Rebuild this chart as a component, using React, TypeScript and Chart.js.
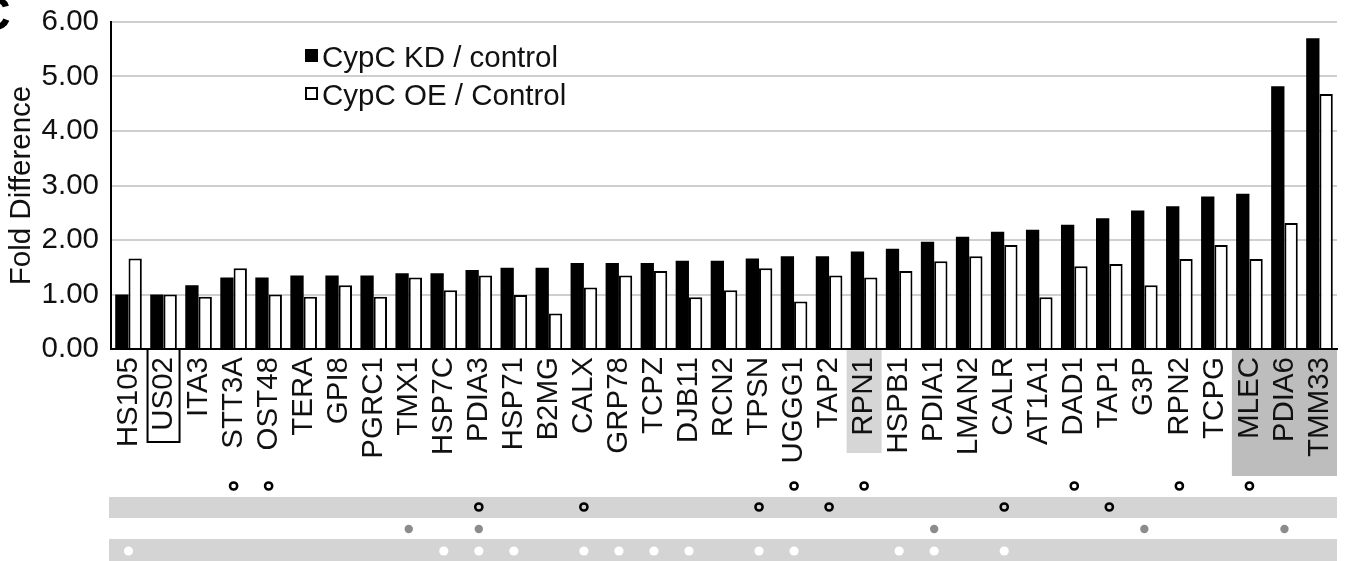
import React, { useEffect, useRef } from "react";
import { Chart, registerables } from "chart.js";

Chart.register(...registerables);

const categories = [
  "HS105", "US02", "ITA3", "STT3A", "OST48", "TERA", "GPI8", "PGRC1", "TMX1", "HSP7C",
  "PDIA3", "HSP71", "B2MG", "CALX", "GRP78", "TCPZ", "DJB11", "RCN2", "TPSN", "UGGG1",
  "TAP2", "RPN1", "HSPB1", "PDIA1", "LMAN2", "CALR", "AT1A1", "DAD1", "TAP1", "G3P",
  "RPN2", "TCPG", "MLEC", "PDIA6", "TMM33",
];

const kdValues = [
  1.0, 1.0, 1.17, 1.31, 1.31, 1.35, 1.35, 1.35, 1.39, 1.39,
  1.45, 1.49, 1.49, 1.58, 1.58, 1.58, 1.62, 1.62, 1.66, 1.7,
  1.7, 1.79, 1.84, 1.97, 2.06, 2.15, 2.19, 2.28, 2.4, 2.54,
  2.62, 2.8, 2.85, 4.82, 5.7,
];

const oeValues = [
  1.66, 1.0, 0.96, 1.48, 1.0, 0.96, 1.17, 0.96, 1.31, 1.08,
  1.35, 0.99, 0.65, 1.13, 1.35, 1.43, 0.95, 1.08, 1.48, 0.87,
  1.35, 1.31, 1.43, 1.61, 1.7, 1.91, 0.95, 1.52, 1.56, 1.17,
  1.65, 1.91, 1.65, 2.31, 4.68,
];

const seriesLabels = ["CypC KD / control", "CypC OE / Control"];
const yAxisTitle = "Fold Difference";
const panelLetter = "C";

// annotation rows under the labels (category names)
const row1Open = ["STT3A", "OST48", "UGGG1", "RPN1", "DAD1", "RPN2", "MLEC"];
const row2Open = ["PDIA3", "CALX", "TPSN", "TAP2", "CALR", "TAP1"];
const row3Gray = ["TMX1", "PDIA3", "PDIA1", "G3P", "PDIA6"];
const row4White = [
  "HS105", "HSP7C", "PDIA3", "HSP71", "CALX", "GRP78", "TCPZ", "DJB11",
  "TPSN", "UGGG1", "HSPB1", "PDIA1", "CALR",
];

const boxedLabels = ["US02"];
const lightHighlightLabels = ["RPN1"];
const darkHighlightLabels = ["MLEC", "PDIA6", "TMM33"];

const FONT = "'Liberation Sans', Arial, sans-serif";
const FS = 29.5;

const annotPlugin = {
  id: "annot",
  beforeDraw(chart: any) {
    const { ctx, chartArea, scales } = chart;
    const x = scales.x;
    const step = (chartArea.right - chartArea.left) / categories.length;
    const half = step / 2;
    const b = chartArea.bottom;
    ctx.save();
    ctx.fillStyle = "#d6d6d6";
    lightHighlightLabels.forEach((n) => {
      const cx = x.getPixelForValue(categories.indexOf(n));
      ctx.fillRect(cx - half, b + 1, step, 103);
    });
    ctx.fillStyle = "#bdbdbd";
    const idxs = darkHighlightLabels.map((n) => categories.indexOf(n));
    const lo = Math.min(...idxs);
    const hi = Math.max(...idxs);
    const x0 = x.getPixelForValue(lo) - half;
    const x1 = x.getPixelForValue(hi) + half;
    ctx.fillRect(x0, b + 1, x1 - x0, 126);
    ctx.restore();
  },
  afterDraw(chart: any) {
    const { ctx, chartArea, scales } = chart;
    const x = scales.x;
    const b = chartArea.bottom;
    ctx.save();
    // boxed label
    ctx.strokeStyle = "#000";
    ctx.lineWidth = 2;
    boxedLabels.forEach((n) => {
      const cx = x.getPixelForValue(categories.indexOf(n));
      ctx.strokeRect(cx - 16, b, 32, 93);
    });
    // bands
    ctx.fillStyle = "#d4d4d4";
    const bl = chartArea.left - 2;
    const bw = chartArea.right - bl;
    ctx.fillRect(bl, b + 148, bw, 21);
    ctx.fillRect(bl, b + 190, bw, 22);
    const openCircle = (names: string[], y: number) => {
      ctx.strokeStyle = "#000";
      ctx.lineWidth = 2.5;
      names.forEach((n) => {
        const cx = x.getPixelForValue(categories.indexOf(n));
        ctx.beginPath();
        ctx.arc(cx, y, 3.6, 0, Math.PI * 2);
        ctx.stroke();
      });
    };
    const filled = (names: string[], y: number, color: string, r: number) => {
      ctx.fillStyle = color;
      names.forEach((n) => {
        const cx = x.getPixelForValue(categories.indexOf(n));
        ctx.beginPath();
        ctx.arc(cx, y, r, 0, Math.PI * 2);
        ctx.fill();
      });
    };
    openCircle(row1Open, b + 137);
    openCircle(row2Open, b + 158);
    filled(row3Gray, b + 180, "#8c8c8c", 4.2);
    filled(row4White, b + 202, "#ffffff", 4.6);

    // legend
    const ds = chart.data.datasets;
    ctx.font = `${FS}px ${FONT}`;
    ctx.textBaseline = "alphabetic";
    ctx.textAlign = "left";
    const lx = 305;
    const rows = [55.5, 93.5];
    ds.forEach((d: any, i: number) => {
      const cy = rows[i];
      if (i === 0) {
        ctx.fillStyle = "#000";
        ctx.fillRect(lx, cy - 6.5, 13, 13);
      } else {
        ctx.fillStyle = "#fff";
        ctx.fillRect(lx, cy - 6.5, 13, 13);
        ctx.strokeStyle = "#000";
        ctx.lineWidth = 2;
        ctx.strokeRect(lx + 1, cy - 5.5, 11, 11);
      }
      ctx.fillStyle = "#111";
      ctx.fillText(d.label, lx + 17, cy + 11);
    });

    // panel letter
    ctx.font = `bold 48px ${FONT}`;
    ctx.fillStyle = "#000";
    ctx.fillText(panelLetter, -24, 30);
    ctx.restore();
  },
};

export default function App() {
  const ref = useRef<HTMLCanvasElement | null>(null);
  useEffect(() => {
    if (!ref.current) return;
    const chart = new Chart(ref.current, {
      type: "bar",
      data: {
        labels: categories,
        datasets: [
          {
            label: seriesLabels[0],
            data: kdValues,
            backgroundColor: "#000000",
            borderWidth: 0,
            categoryPercentage: 0.76,
            barPercentage: 1.0,
          },
          {
            label: seriesLabels[1],
            data: oeValues,
            backgroundColor: "#ffffff",
            borderColor: "#000000",
            borderWidth: 2,
            categoryPercentage: 0.76,
            barPercentage: 1.0,
          },
        ],
      },
      options: {
        responsive: false,
        animation: false,
        layout: { padding: { top: 22, right: 9, left: 0, bottom: 0 } },
        plugins: {
          legend: { display: false },
          tooltip: { enabled: false },
          title: { display: false },
        },
        scales: {
          x: {
            grid: { display: false, drawTicks: false },
            border: { display: true, color: "#000", width: 2 },
            ticks: {
              autoSkip: false,
              minRotation: 90,
              maxRotation: 90,
              padding: 8,
              color: "#111",
              font: { family: FONT, size: FS },
            },
            afterFit: (scale: any) => {
              scale.height = 212;
              scale.paddingLeft = 0;
              scale.paddingRight = 0;
            },
          },
          y: {
            min: 0,
            max: 6,
            grid: { color: "#cfcfcf", lineWidth: 2, drawTicks: false },
            border: { display: true, color: "#000", width: 2 },
            ticks: {
              stepSize: 1,
              padding: 12,
              color: "#111",
              font: { family: FONT, size: FS },
              callback: (v: any) => Number(v).toFixed(2),
            },
            title: {
              display: true,
              text: yAxisTitle,
              color: "#111",
              font: { family: FONT, size: FS },
              padding: { top: 4, bottom: 0 },
            },
            afterFit: (scale: any) => {
              scale.width = 111;
              scale.paddingTop = 0;
              scale.paddingBottom = 0;
            },
          },
        },
      },
      plugins: [annotPlugin],
    });
    return () => chart.destroy();
  }, []);
  return (
    <div style={{ position: "absolute", left: 0, top: 0, width: 1346, height: 561, background: "#fff" }}>
      <canvas ref={ref} width={1346} height={561} />
    </div>
  );
}
